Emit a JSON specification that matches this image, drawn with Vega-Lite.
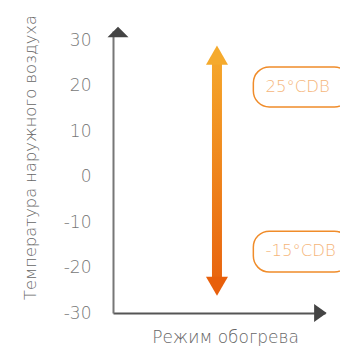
{
  "$schema": "https://vega.github.io/schema/vega-lite/v6.json",
  "width": 212,
  "height": 282,
  "autosize": {"type": "none"},
  "padding": {"left": 113, "top": 31, "right": 15, "bottom": 33},
  "config": {"view": {"stroke": null}, "font": "DejaVu Sans"},
  "encoding": {
    "x": {
      "field": "x", "type": "quantitative",
      "scale": {"domain": [0, 10], "nice": false, "zero": false},
      "axis": {
        "title": "Режим обогрева", "labels": false, "ticks": false, "grid": false,
        "domainColor": "#555555", "domainWidth": 2,
        "titleFontSize": 17, "titleFontWeight": 200, "titleColor": "#666666",
        "titleX": 112, "titleY": 24, "titleBaseline": "middle", "titleAnchor": "middle", "titleAlign": "center"
      }
    },
    "y": {
      "field": "y", "type": "quantitative",
      "scale": {"domain": [-30, 32], "nice": false, "zero": false},
      "axis": {
        "title": "Температура наружного воздуха",
        "values": [-30, -20, -10, 0, 10, 20, 30],
        "labelExpr": "datum.value + ''",
        "grid": false, "ticks": false, "tickSize": 0, "labelPadding": 22,
        "labelFontSize": 17, "labelFontWeight": 200, "labelColor": "#777777",
        "domainColor": "#777777", "domainWidth": 2,
        "titleFontSize": 16.3, "titleFontWeight": 200, "titleColor": "#666666",
        "titleX": -83, "titleY": 126, "titleBaseline": "middle", "titleAlign": "center", "titleAngle": 270
      }
    }
  },
  "layer": [
    {
      "data": {"values": [{"x": 4.9, "y": -22.5, "y2": 25}]},
      "mark": {
        "type": "bar", "width": 10,
        "color": {"gradient": "linear", "x1": 0, "y1": 0, "x2": 0, "y2": 1,
          "stops": [{"offset": 0, "color": "#F5A52A"}, {"offset": 1, "color": "#E8650F"}]}
      },
      "encoding": {"y2": {"field": "y2"}}
    },
    {
      "data": {"values": [{"x": 4.9, "y": 26.7}]},
      "mark": {"type": "point", "shape": "triangle-up", "size": 484, "filled": true, "opacity": 1, "color": "#F5AA2D"}
    },
    {
      "data": {"values": [{"x": 4.9, "y": -24.1}]},
      "mark": {"type": "point", "shape": "triangle-down", "size": 484, "filled": true, "opacity": 1, "color": "#E85F0B"}
    },
    {
      "data": {"values": [{"x": 0, "y": 31.8}]},
      "mark": {"type": "point", "shape": "M0,-0.5L1,0.5L-1,0.5Z", "size": 441, "filled": true, "opacity": 1, "color": "#444444"}
    },
    {
      "data": {"values": [{"x": 10.02, "y": -30}]},
      "mark": {"type": "point", "shape": "M0.7,0L-0.7,-1L-0.7,1Z", "size": 324, "filled": true, "opacity": 1, "color": "#444444"}
    },
    {
      "data": {"values": [{"x": 6.7, "x2": 11.5, "y": 24.1, "y2": 15.3}, {"x": 6.7, "x2": 11.5, "y": -12, "y2": -21}]},
      "mark": {"type": "rect", "cornerRadius": 16, "stroke": "#F08C2A", "strokeWidth": 1.5, "fill": "#FFFFFF"},
      "encoding": {"x2": {"field": "x2"}, "y2": {"field": "y2"}}
    },
    {
      "data": {"values": [{"x": 7.3, "y": 19.7, "label": "25°CDB"}, {"x": 7.3, "y": -16.4, "label": "-15°CDB"}]},
      "mark": {"type": "text", "align": "left", "baseline": "middle", "fontSize": 16.5, "fontWeight": 200, "color": "#F5B57A"},
      "encoding": {"text": {"field": "label"}}
    }
  ]
}
